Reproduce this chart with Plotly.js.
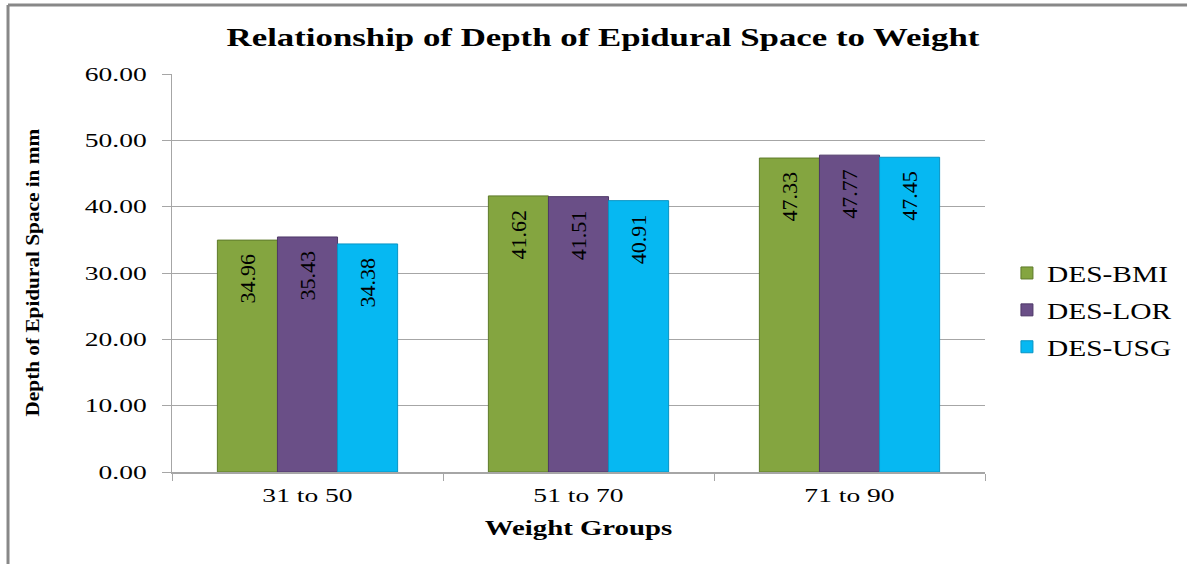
<!DOCTYPE html>
<html>
<head>
<meta charset="utf-8">
<script src="https://cdn.plot.ly/plotly-3.0.1.min.js"></script>
<style>
html,body{margin:0;padding:0;background:#fff;}
#chart{width:1194px;height:564px;}
</style>
</head>
<body>
<div id="chart"></div>
<script>
const categories = ["31 to 50", "51 to 70", "71 to 90"];
const seriesNames = ["DES-BMI", "DES-LOR", "DES-USG"];
const desBMI = [34.96, 41.62, 47.33];
const desLOR = [35.43, 41.51, 47.77];
const desUSG = [34.38, 40.91, 47.45];
const yTicks = [0, 10, 20, 30, 40, 50, 60];

const colors = ["#84A540", "#6A4F87", "#06B8F2"];
const lineColors = ["#5E7A2A", "#4E3868", "#0894C4"];
const serif = "Liberation Serif, Times New Roman, serif";

const allValues = [desBMI, desLOR, desUSG];
const traces = allValues.map((vals, i) => ({
  type: "bar",
  name: seriesNames[i],
  x: categories,
  y: vals,
  legendgroup: "g" + i,
  marker: {color: colors[i], line: {color: lineColors[i], width: 1}},
  text: vals.map(v => v.toFixed(2) + "\u00a0\u00a0"),
  textposition: "inside",
  insidetextanchor: "end",
  textangle: -90,
  textfont: {family: serif, size: 22, color: "#000"},
  hoverinfo: "x+y+name"
}));

const layout = {
  width: 1194, height: 564,
  margin: {l: 172, r: 209, t: 74, b: 92},
  paper_bgcolor: "#fff", plot_bgcolor: "#fff",
  title: {text: "<b>Relationship of Depth of Epidural Space to Weight</b>",
          font: {family: serif, size: 26, color: "#000"},
          x: 0.505, xanchor: "center", y: 0.935, yanchor: "middle"},
  barmode: "group", bargap: 0.335, bargroupgap: 0,
  xaxis: {
    type: "category",
    tickfont: {family: serif, size: 19, color: "#000"},
    tickson: "boundaries", ticks: "outside", ticklen: 7, tickcolor: "#A6A6A6",
    ticklabelstandoff: 6,
    showline: true, linecolor: "#A6A6A6", linewidth: 1.5,
    title: {text: "<b>Weight Groups</b>", font: {family: serif, size: 22, color: "#000"}, standoff: 14}
  },
  yaxis: {
    range: [0, 60], tickvals: yTicks, ticktext: yTicks.map(v => v.toFixed(2)),
    tickfont: {family: serif, size: 19, color: "#000"},
    ticks: "outside", ticklen: 9, tickcolor: "#A6A6A6",
    ticklabelstandoff: 11,
    showline: true, linecolor: "#A6A6A6", linewidth: 1.5,
    gridcolor: "#A6A6A6", gridwidth: 1, zeroline: false
  },
  annotations: [
    {text: "<b>Depth of Epidural Space in mm</b>", xref: "paper", yref: "paper",
     x: -0.172, y: 0.5, xanchor: "center", yanchor: "middle", textangle: -90,
     showarrow: false, font: {family: serif, size: 19, color: "#000"}}
  ],
  legend: {
    x: 1.027, xanchor: "left", y: 0.407, yanchor: "middle",
    font: {family: serif, size: 23, color: "#000"},
    tracegroupgap: 4, itemwidth: 30
  },
  shapes: [
    {type: "line", xref: "paper", yref: "paper", x0: -0.2017, x1: 1.2485, y0: 1.1734, y1: 1.1734,
     line: {color: "#888", width: 3}},
    {type: "line", xref: "paper", yref: "paper", x0: -0.2017, x1: -0.2017, y0: 1.1734, y1: -0.25,
     line: {color: "#888", width: 3}}
  ]
};

// Horizontally stretch text glyphs (the original chart's text is widened)
function stretch(root, sel, s) {
  root.querySelectorAll(sel).forEach(t => {
    const ax = parseFloat(t.getAttribute("x")) || 0;
    const T = t.getAttribute("transform") || "";
    t.setAttribute("transform", T + " translate(" + ax + ",0) scale(" + s + ",1) translate(" + (-ax) + ",0)");
  });
}

const gd = document.getElementById("chart");
Plotly.newPlot(gd, traces, layout, {displayModeBar: false, staticPlot: true}).then(() => {
  stretch(gd, "text.gtitle", 1.34);
  stretch(gd, ".ytick text", 1.45);
  stretch(gd, ".xtick text", 1.45);
  stretch(gd, "text.xtitle", 1.31);
  stretch(gd, "text.legendtext", 1.28);
  stretch(gd, "text.annotation-text", 1.12);
  gd.querySelectorAll(".legend .scrollbox").forEach(e => e.removeAttribute("clip-path"));
  gd.querySelectorAll(".legend").forEach(e => e.removeAttribute("clip-path"));
});
</script>
</body>
</html>
